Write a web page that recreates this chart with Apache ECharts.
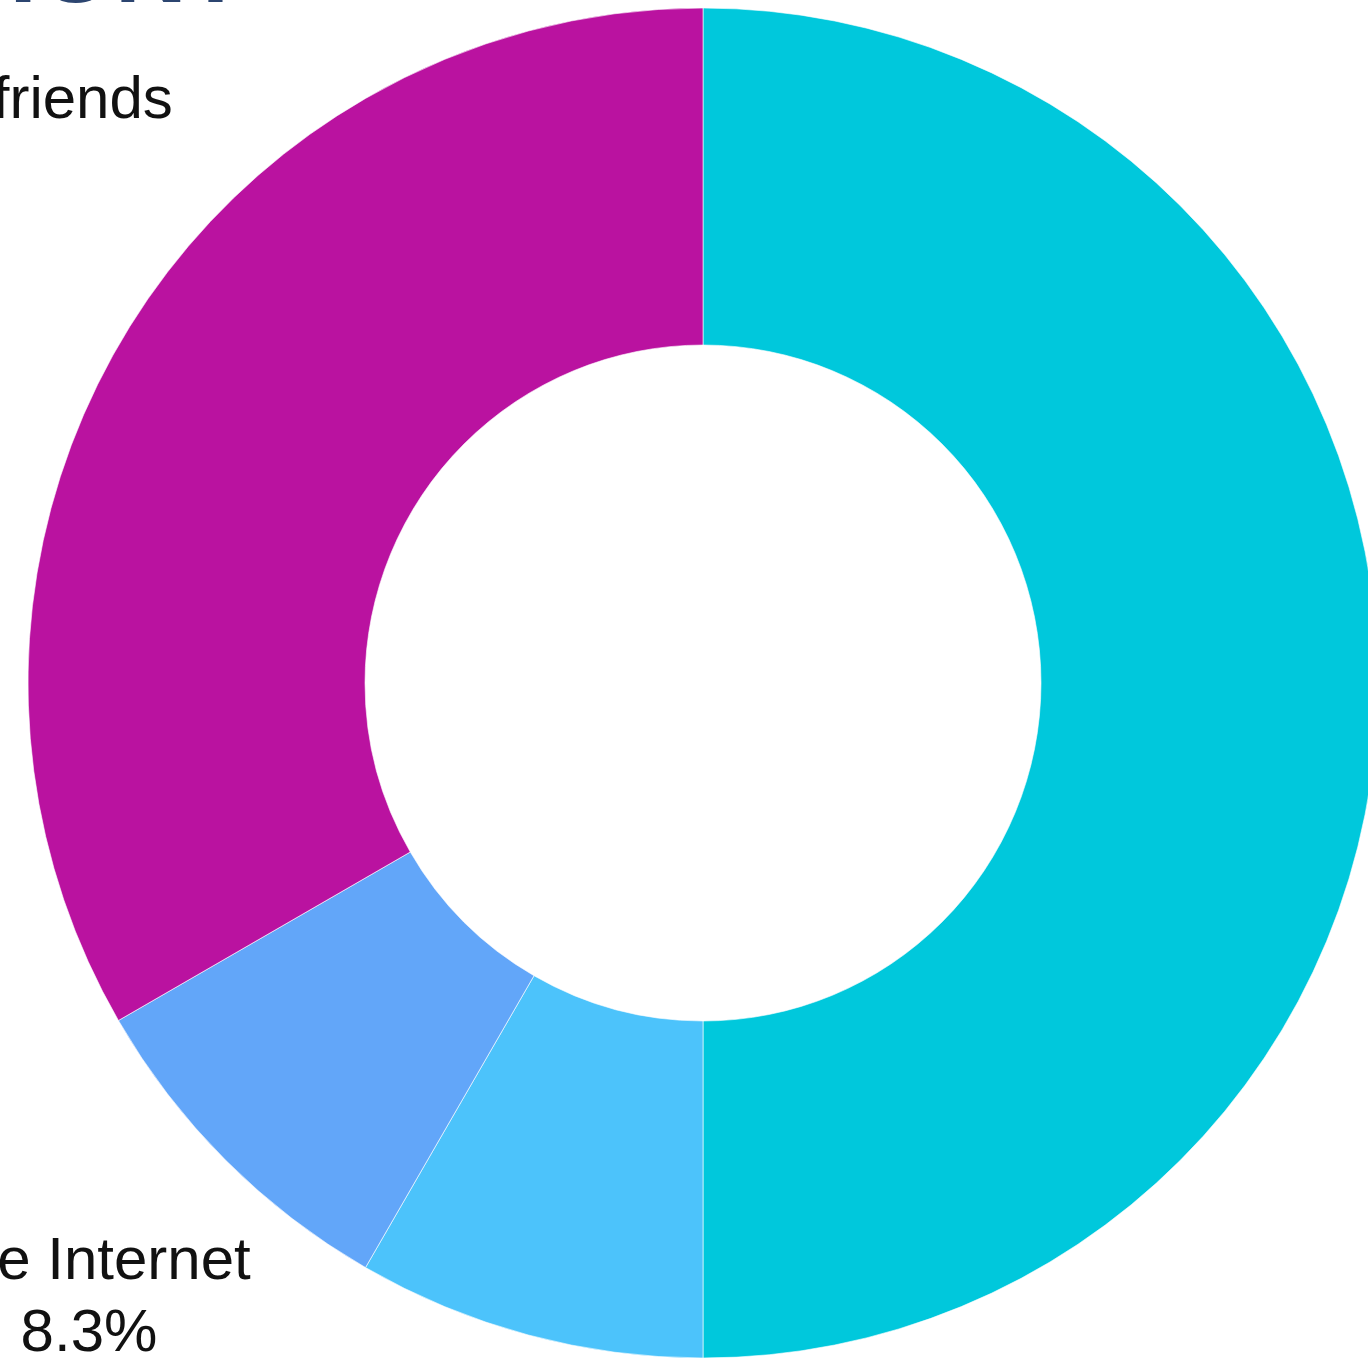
<!DOCTYPE html>
<html>
<head>
<meta charset="utf-8">
<title>Survey donut</title>
<script src="https://cdn.jsdelivr.net/npm/echarts@6/dist/echarts.min.js"></script>
<style>
  html, body { margin: 0; padding: 0; background: #ffffff; }
  #chart { width: 1368px; height: 1360px; }
</style>
</head>
<body>
<div id="chart"></div>
<script>
// Survey answers (number of respondents per answer)
const categories = ['Previous visit', 'Social media', 'The Internet', 'Recommendations from friends'];
const responses = [6, 1, 1, 4];
const sliceColors = ['#00C8DC', '#4CC3FB', '#62A6F9', '#BA12A0'];
const chartTitle = 'HOW DID YOU HEAR ABOUT THIS EXHIBITION?';

// Where each slice's caption block is centred
const labelSpots = [[1580, 683], [470, 1530], [89, 1298], [-244, 137]];

const chart = echarts.init(document.getElementById('chart'), null, { renderer: 'canvas' });

chart.setOption({
  animation: false,
  graphic: [{
    type: 'text',
    x: 248,
    y: -26,
    style: {
      text: chartTitle,
      align: 'right',
      verticalAlign: 'middle',
      fill: '#2C4570',
      font: 'bold 100px "Liberation Sans", Arial, sans-serif'
    }
  }],
  series: [{
    type: 'pie',
    center: [703, 683],
    radius: [338, 675],
    startAngle: 90,
    clockwise: true,
    avoidLabelOverlap: false,
    percentPrecision: 1,
    itemStyle: { borderColor: 'rgba(255,255,255,0.6)', borderWidth: 1 },
    label: {
      show: true,
      position: 'outside',
      formatter: '{b}\n{d}%',
      fontFamily: '"Liberation Sans", Arial, sans-serif',
      fontSize: 60,
      lineHeight: 72,
      color: '#111111'
    },
    labelLine: { show: false },
    labelLayout: function (params) {
      const spot = labelSpots[params.dataIndex];
      return { x: spot[0], y: spot[1], align: 'center', verticalAlign: 'middle' };
    },
    emphasis: { disabled: true },
    data: categories.map(function (name, i) {
      return { name: name, value: responses[i], itemStyle: { color: sliceColors[i] } };
    })
  }]
});
</script>
</body>
</html>
